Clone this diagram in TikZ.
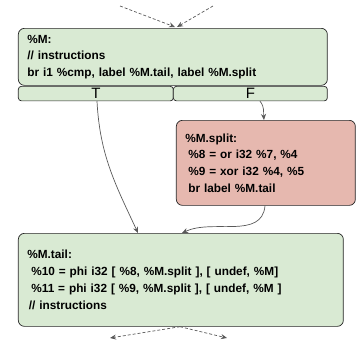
\documentclass[tikz,border=0pt]{standalone}
\usepackage{fontspec}
\setmainfont{Liberation Sans}
\usetikzlibrary{arrows.meta,calc}
\definecolor{blockgreen}{HTML}{D9EAD3}
\definecolor{blockred}{HTML}{E6B8AF}
\definecolor{edgegray}{HTML}{595959}
\tikzset{
  x=1pt, y=-1pt,
  block/.style={draw=black!85, line width=0.7pt, rounded corners=6pt, anchor=north west,
    align=left, inner xsep=0pt, inner ysep=0pt,
    font=\fontsize{11.8}{16.7}\selectfont\bfseries},
  cell/.style={draw=black!85, line width=0.7pt, rounded corners=3pt, fill=blockgreen,
    anchor=north west, inner sep=0pt, font=\fontsize{15}{15}\selectfont},
  flow/.style={draw=edgegray, line width=0.7pt, -{Stealth[length=6pt,width=5pt]}},
  flowdash/.style={flow, dashed, dash pattern=on 3pt off 2pt},
}
\begin{document}
\begin{tikzpicture}
\useasboundingbox (0,0) rectangle (360,343);
% entry block with its branch outcomes
\node[block, fill=blockgreen, minimum width=309pt, minimum height=57pt, text width=291pt]
  (entry) at (18,28) {\%M:\\// instructions\\br i1 \%cmp, label \%M.tail, label \%M.split};
\node[cell, minimum width=155pt, minimum height=14.5pt] (tcell) at (18,86) {T};
\node[cell, minimum width=154pt, minimum height=14.5pt] (fcell) at (173,86) {F};
% split block
\node[block, fill=blockred, minimum width=179pt, minimum height=85pt, text width=161pt]
  (split) at (176,120) {\%M.split:\\\hspace*{3pt}\%8 = or i32 \%7, \%4\\\hspace*{3pt}\%9 = xor i32 \%4, \%5\\\hspace*{3pt}br label \%M.tail};
% tail block
\node[block, fill=blockgreen, minimum width=325pt, minimum height=93pt, text width=307pt]
  (tail) at (18,233) {\%M.tail:\\\hspace*{4pt}\%10 = phi i32 [ \%8, \%M.split ], [ undef, \%M]\\\hspace*{4pt}\%11 = phi i32 [ \%9, \%M.split ], [ undef, \%M ]\\\hspace*{1.5pt}// instructions};
% incoming and outgoing edges
\coordinate (inL) at (120,6);
\coordinate (inR) at (213,6);
\coordinate (outL) at (110,338);
\coordinate (outR) at (227,338);
\draw[flowdash] (inL) -- ($(entry.north west)+(157,-1)$);
\draw[flowdash] (inR) -- ($(entry.north west)+(159,-1)$);
\draw[flowdash] ($(tail.south west)+(162,0)$) -- (outL);
\draw[flowdash] ($(tail.south west)+(162,0)$) -- (outR);
% branch edges
\draw[flow] ($(tcell.south west)+(79,0)$) to[out=-87,in=115] ($(tail.north west)+(120,0)$);
\draw[flow] ($(fcell.south west)+(87,0)$) to[out=-50,in=95] ($(split.north west)+(88,0)$);
\draw[flow] ($(split.south west)+(89,0)$) to[out=-95,in=25] ($(tail.north west)+(164,0)$);
\end{tikzpicture}
\end{document}
